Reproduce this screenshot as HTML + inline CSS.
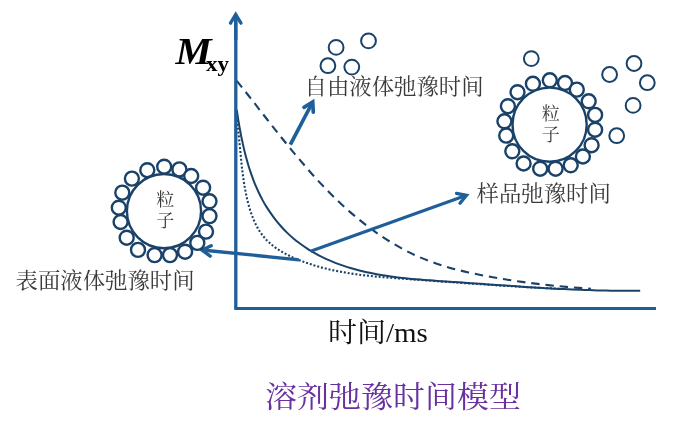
<!DOCTYPE html>
<html lang="zh-CN"><head><meta charset="utf-8"><title>溶剂弛豫时间模型</title>
<style>
html,body{margin:0;padding:0;background:#fff;}
body{width:692px;height:424px;overflow:hidden;}
svg{display:block;will-change:transform;}
</style></head><body>
<svg width="692" height="424" viewBox="0 0 692 424">
<rect width="692" height="424" fill="#ffffff"/>
<path d="M236.8 80.8 C238.1 82.4 241.9 87.2 244.4 90.4 C246.9 93.6 249.6 96.9 252.1 100.1 C254.6 103.3 257.1 106.6 259.6 109.8 C262.1 113.0 264.6 116.2 267.2 119.5 C269.8 122.8 272.3 126.1 274.9 129.3 C277.5 132.6 280.0 135.8 282.6 139.0 C285.2 142.2 287.8 145.4 290.4 148.6 C293.0 151.8 295.6 154.9 298.3 158.1 C301.0 161.2 303.6 164.4 306.3 167.5 C309.0 170.6 311.7 173.8 314.5 176.8 C317.3 179.9 320.0 182.8 322.9 185.8 C325.8 188.8 328.7 191.8 331.6 194.7 C334.5 197.6 337.5 200.5 340.5 203.3 C343.5 206.1 346.5 208.9 349.6 211.6 C352.7 214.3 355.8 216.9 359.0 219.5 C362.2 222.1 365.4 224.6 368.7 227.1 C372.0 229.6 375.3 232.0 378.7 234.3 C382.1 236.6 385.4 238.8 388.9 241.0 C392.4 243.2 395.9 245.2 399.5 247.2 C403.1 249.2 406.7 251.1 410.3 252.9 C413.9 254.7 417.6 256.3 421.4 257.9 C425.1 259.5 428.9 260.9 432.8 262.3 C436.7 263.7 440.6 265.0 444.5 266.2 C448.4 267.4 452.4 268.5 456.4 269.5 C460.4 270.5 464.5 271.5 468.5 272.4 C472.5 273.3 476.6 274.2 480.6 275.0 C484.7 275.8 488.7 276.5 492.8 277.2 C496.9 277.9 500.9 278.6 505.0 279.3 C509.1 280.0 513.2 280.6 517.3 281.2 C521.4 281.8 525.4 282.4 529.5 282.9 C533.6 283.4 537.7 283.9 541.8 284.4 C545.9 284.9 549.9 285.3 554.0 285.7 C558.1 286.1 562.2 286.5 566.3 286.9 C570.4 287.3 574.5 287.6 578.6 287.9 C582.7 288.2 588.9 288.6 590.9 288.7" fill="none" stroke="#1a4269" stroke-width="2.1" stroke-dasharray="8.4 5.9"/>
<path d="M236.8 110.0 C237.0 111.3 237.6 115.4 238.0 118.1 C238.4 120.8 238.9 123.6 239.4 126.4 C239.9 129.2 240.4 131.9 240.9 134.7 C241.4 137.5 242.1 140.3 242.7 143.1 C243.3 145.9 243.9 148.7 244.6 151.5 C245.3 154.3 246.0 157.1 246.8 159.8 C247.6 162.6 248.3 165.3 249.2 168.0 C250.1 170.7 251.0 173.5 252.0 176.2 C253.0 178.9 253.9 181.6 255.0 184.2 C256.1 186.8 257.3 189.4 258.5 192.0 C259.7 194.6 261.0 197.1 262.3 199.6 C263.6 202.1 265.0 204.5 266.5 206.9 C268.0 209.3 269.6 211.6 271.2 213.9 C272.8 216.2 274.5 218.5 276.2 220.7 C277.9 222.9 279.7 224.9 281.6 227.0 C283.5 229.1 285.5 231.2 287.5 233.1 C289.5 235.0 291.6 236.9 293.7 238.7 C295.8 240.5 298.1 242.2 300.3 243.8 C302.6 245.5 304.9 247.1 307.2 248.6 C309.5 250.1 312.0 251.5 314.4 252.9 C316.8 254.3 319.3 255.6 321.8 256.9 C324.3 258.1 326.9 259.3 329.5 260.4 C332.1 261.5 334.7 262.6 337.3 263.6 C339.9 264.6 342.5 265.5 345.2 266.4 C347.9 267.3 350.6 268.0 353.3 268.8 C356.0 269.6 358.7 270.3 361.4 271.0 C364.1 271.7 366.9 272.2 369.6 272.8 C372.4 273.4 375.1 273.9 377.9 274.4 C380.7 274.9 383.5 275.4 386.3 275.8 C389.1 276.2 391.9 276.6 394.7 277.0 C397.5 277.4 400.4 277.7 403.2 278.0 C406.0 278.3 408.9 278.6 411.7 278.9 C414.5 279.2 417.4 279.4 420.2 279.6 C423.0 279.8 425.8 280.1 428.7 280.3 C431.6 280.5 434.4 280.7 437.3 280.9 C440.2 281.1 443.0 281.3 445.8 281.5 C448.6 281.7 451.5 281.8 454.3 282.0 C457.1 282.2 460.0 282.4 462.8 282.6 C465.6 282.8 468.5 283.0 471.3 283.2 C474.1 283.4 476.9 283.6 479.7 283.8 C482.5 284.0 485.4 284.2 488.2 284.4 C491.0 284.6 493.8 284.8 496.6 285.0 C499.4 285.2 502.2 285.4 505.0 285.6 C507.8 285.8 510.6 285.9 513.4 286.1 C516.2 286.3 519.0 286.5 521.8 286.7 C524.6 286.9 527.4 287.0 530.2 287.2 C533.0 287.4 535.8 287.5 538.6 287.7 C541.4 287.9 544.2 288.0 547.0 288.2 C549.8 288.4 552.6 288.5 555.4 288.7 C558.2 288.9 561.0 289.0 563.8 289.1 C566.6 289.2 569.4 289.4 572.2 289.5 C575.0 289.6 577.8 289.7 580.6 289.8 C583.4 289.9 586.3 290.0 589.1 290.1 C591.9 290.2 594.7 290.3 597.5 290.4 C600.3 290.5 603.2 290.4 606.0 290.5 C608.8 290.6 611.7 290.7 614.5 290.7 C617.3 290.7 620.1 290.7 623.0 290.7 C625.9 290.7 628.7 290.8 631.6 290.8 C634.5 290.8 638.8 290.7 640.2 290.7" fill="none" stroke="#1a4269" stroke-width="2"/>
<path d="M236.8 120.0 C237.0 121.4 237.6 125.6 237.9 128.4 C238.2 131.2 238.6 134.0 238.9 136.8 C239.2 139.6 239.4 142.5 239.7 145.4 C240.0 148.3 240.3 151.2 240.6 154.1 C240.9 157.0 241.1 159.8 241.4 162.7 C241.7 165.6 242.0 168.5 242.4 171.4 C242.8 174.3 243.2 177.2 243.6 180.1 C244.0 183.0 244.5 185.8 245.0 188.7 C245.5 191.5 246.1 194.4 246.7 197.2 C247.3 200.0 248.0 202.8 248.8 205.6 C249.6 208.4 250.4 211.2 251.4 213.9 C252.4 216.6 253.4 219.3 254.6 221.9 C255.8 224.5 257.1 227.0 258.5 229.4 C259.9 231.8 261.6 234.2 263.3 236.3 C265.0 238.5 266.9 240.4 268.9 242.3 C270.9 244.2 273.1 245.9 275.4 247.6 C277.7 249.2 280.1 250.8 282.6 252.2 C285.1 253.6 287.6 254.9 290.2 256.2 C292.8 257.4 295.4 258.6 298.1 259.7 C300.8 260.8 303.5 261.8 306.2 262.7 C308.9 263.6 311.7 264.5 314.4 265.4 C317.1 266.2 319.9 267.1 322.6 267.8 C325.4 268.5 328.1 269.2 330.9 269.8 C333.7 270.4 336.6 271.0 339.4 271.5 C342.2 272.0 345.0 272.5 347.8 273.0 C350.6 273.5 353.5 273.9 356.4 274.3 C359.2 274.7 362.0 275.1 364.9 275.4 C367.8 275.7 370.6 276.0 373.5 276.3 C376.4 276.6 379.3 276.9 382.2 277.1 C385.1 277.4 387.9 277.6 390.8 277.8 C393.7 278.0 396.5 278.3 399.4 278.5 C402.3 278.7 405.2 278.9 408.1 279.1 C411.0 279.3 413.8 279.5 416.7 279.7 C419.6 279.9 422.4 280.1 425.3 280.3 C428.2 280.5 431.1 280.7 434.0 280.9 C436.9 281.1 439.7 281.4 442.6 281.6 C445.5 281.8 448.4 282.0 451.2 282.2 C454.0 282.4 456.8 282.6 459.7 282.8 C462.6 283.0 465.4 283.2 468.3 283.4 C471.2 283.6 474.0 283.8 476.9 284.0 C479.8 284.2 482.6 284.3 485.5 284.5 C488.4 284.7 491.1 284.9 494.0 285.1 C496.9 285.3 499.7 285.5 502.6 285.7 C505.5 285.9 508.3 286.0 511.2 286.2 C514.0 286.4 516.9 286.5 519.7 286.7 C522.6 286.9 525.4 287.0 528.3 287.2 C531.1 287.4 533.9 287.5 536.8 287.7 C539.6 287.9 542.5 288.0 545.4 288.1 C548.3 288.2 551.1 288.4 554.0 288.5 C556.9 288.6 561.2 288.8 562.6 288.9" fill="none" stroke="#1a4269" stroke-width="2.1" stroke-dasharray="2 1.9"/>
<path d="M235.8 308.6 L235.8 16" fill="none" stroke="#1e5f9a" stroke-width="3.3"/>
<path d="M235.8 40.0 L235.7 14.4" fill="none" stroke="#1e5f9a" stroke-width="3.3"/><path d="M241.0 23.1 L235.7 14.4 L230.5 23.2" fill="none" stroke="#1e5f9a" stroke-width="3.3" stroke-linecap="round" stroke-linejoin="miter" stroke-miterlimit="10"/>
<path d="M234.3 308.6 L656 308.6" fill="none" stroke="#1e5f9a" stroke-width="3"/>
<path d="M290.3 144.6 L312.7 102.0" fill="none" stroke="#1e5f9a" stroke-width="3.7"/><path d="M313.3 112.2 L312.7 102.0 L304.0 107.3" fill="none" stroke="#1e5f9a" stroke-width="3.7" stroke-linecap="round" stroke-linejoin="miter" stroke-miterlimit="10"/>
<path d="M310.6 251.3 L466.5 195.3" fill="none" stroke="#1e5f9a" stroke-width="3.1"/><path d="M460.0 203.2 L466.5 195.3 L456.5 193.3" fill="none" stroke="#1e5f9a" stroke-width="3.3" stroke-linecap="round" stroke-linejoin="miter" stroke-miterlimit="10"/>
<path d="M298.9 259.8 L202.0 250.0" fill="none" stroke="#1e5f9a" stroke-width="3.3"/><path d="M211.2 245.7 L202.0 250.0 L210.2 256.1" fill="none" stroke="#1e5f9a" stroke-width="3.4" stroke-linecap="round" stroke-linejoin="miter" stroke-miterlimit="10"/>
<g transform="translate(0.0 0.7)" fill="#fff" stroke="#1a4269" stroke-width="2.4"><circle cx="164.2" cy="166.0" r="7.0"/><circle cx="179.4" cy="168.7" r="7.0"/><circle cx="191.2" cy="175.3" r="7.0"/><circle cx="203.1" cy="187.0" r="7.0"/><circle cx="209.5" cy="200.6" r="7.0"/><circle cx="209.5" cy="215.4" r="7.0"/><circle cx="206.0" cy="230.9" r="7.0"/><circle cx="197.3" cy="242.2" r="7.0"/><circle cx="185.1" cy="251.0" r="7.0"/><circle cx="170.0" cy="254.4" r="7.0"/><circle cx="154.6" cy="254.4" r="7.0"/><circle cx="138.0" cy="249.2" r="7.0"/><circle cx="126.7" cy="237.0" r="7.0"/><circle cx="120.6" cy="221.3" r="7.0"/><circle cx="118.8" cy="207.0" r="7.0"/><circle cx="122.3" cy="191.9" r="7.0"/><circle cx="131.9" cy="177.9" r="7.0"/><circle cx="147.3" cy="169.5" r="7.0"/><circle cx="164.0" cy="210.4" r="37.1"/></g>
<g transform="translate(385.6 -85.7)" fill="#fff" stroke="#1a4269" stroke-width="2.4"><circle cx="164.2" cy="166.0" r="7.0"/><circle cx="179.4" cy="168.7" r="7.0"/><circle cx="191.2" cy="175.3" r="7.0"/><circle cx="203.1" cy="187.0" r="7.0"/><circle cx="209.5" cy="200.6" r="7.0"/><circle cx="209.5" cy="215.4" r="7.0"/><circle cx="206.0" cy="230.9" r="7.0"/><circle cx="197.3" cy="242.2" r="7.0"/><circle cx="185.1" cy="251.0" r="7.0"/><circle cx="170.0" cy="254.4" r="7.0"/><circle cx="154.6" cy="254.4" r="7.0"/><circle cx="138.0" cy="249.2" r="7.0"/><circle cx="126.7" cy="237.0" r="7.0"/><circle cx="120.6" cy="221.3" r="7.0"/><circle cx="118.8" cy="207.0" r="7.0"/><circle cx="122.3" cy="191.9" r="7.0"/><circle cx="131.9" cy="177.9" r="7.0"/><circle cx="147.3" cy="169.5" r="7.0"/><circle cx="164.0" cy="210.4" r="37.1"/></g>
<g fill="none" stroke="#1a4269" stroke-width="2">
<circle cx="336.1" cy="47.4" r="7.4"/>
<circle cx="368.5" cy="40.9" r="7.4"/>
<circle cx="327.9" cy="65.7" r="7.4"/>
<circle cx="351.8" cy="67.1" r="7.4"/>
<circle cx="531.3" cy="58.6" r="7.4"/>
<circle cx="609.6" cy="74.5" r="7.4"/>
<circle cx="634.0" cy="63.5" r="7.4"/>
<circle cx="647.3" cy="82.7" r="7.4"/>
<circle cx="633.1" cy="105.4" r="7.4"/>
<circle cx="616.7" cy="135.7" r="7.4"/>
</g>
<g font-family="'Liberation Serif','Noto Serif CJK SC',serif" fill="#3a3a3a">
<text transform="translate(304.5 94.3) scale(1 0.94)" font-size="22.4">自由液体弛豫时间</text>
<text transform="translate(476.5 200.7) scale(1 0.94)" font-size="22.4">样品弛豫时间</text>
<text transform="translate(15.5 287.7) scale(1 0.94)" font-size="22.4">表面液体弛豫时间</text>
<text x="165.2" y="206" font-size="18" text-anchor="middle">粒</text>
<text x="165.2" y="227" font-size="18" text-anchor="middle">子</text>
<text x="550.8" y="120.2" font-size="18" text-anchor="middle">粒</text>
<text x="550.8" y="141.2" font-size="18" text-anchor="middle">子</text>
</g>
<text transform="translate(328 342.3) scale(1 0.94)" font-size="29" font-family="'Liberation Serif','Noto Serif CJK SC',serif" fill="#111">时间/ms</text>
<text transform="translate(265 406.9) scale(1 0.93)" font-size="32" font-family="'Liberation Serif','Noto Serif CJK SC',serif" fill="#6930a0">溶剂弛豫时间模型</text>
<text transform="translate(175.5 63.8) scale(1.1 1)" font-size="37" font-family="'Liberation Serif',serif" font-weight="bold" font-style="italic" fill="#000">M</text>
<text transform="translate(206 70.5) scale(1.07 1)" font-size="21.5" font-family="'Liberation Serif',serif" font-weight="bold" fill="#000">xy</text>
</svg>
</body></html>
